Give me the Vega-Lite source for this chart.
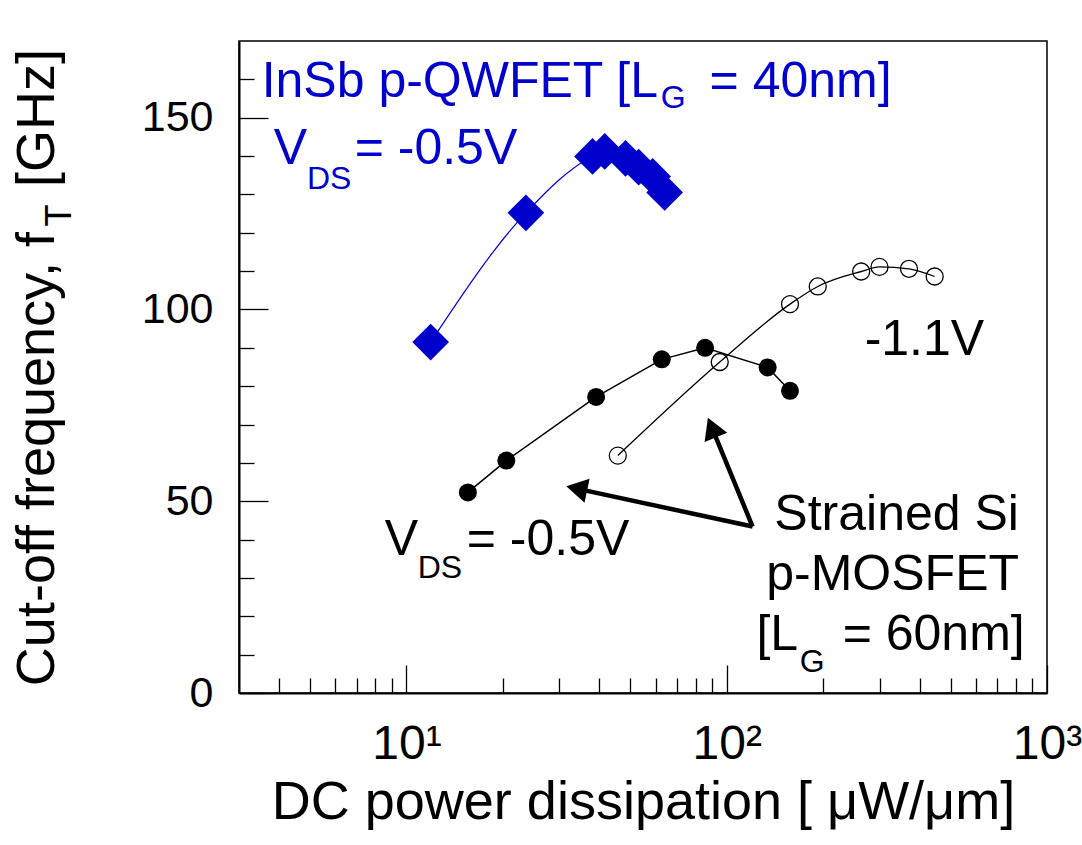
{
  "$schema": "https://vega.github.io/schema/vega-lite/v6.json",
  "width": 808,
  "height": 652,
  "autosize": {"type": "none"},
  "padding": {"left": 239, "top": 41, "right": 35, "bottom": 152},
  "background": "white",
  "config": {
    "font": "Liberation Sans",
    "view": {"stroke": "black", "strokeWidth": 1.5},
    "axis": {"grid": false, "domainColor": "black", "domainWidth": 2, "tickColor": "black", "tickWidth": 1.3, "labelColor": "black", "titleColor": "black", "labelFont": "Liberation Sans", "titleFont": "Liberation Sans", "titleFontWeight": "normal", "labelOverlap": false, "labelFlush": false}
  },
  "datasets": {
    "insb": [
      {"power": 11.9, "ft": 91.5},
      {"power": 23.6, "ft": 125.2},
      {"power": 38.1, "ft": 139.9},
      {"power": 41.6, "ft": 141.2},
      {"power": 48.3, "ft": 139.4},
      {"power": 53.1, "ft": 137.1},
      {"power": 58.7, "ft": 134.7},
      {"power": 64.0, "ft": 130.5}
    ],
    "si05": [
      {"power": 15.55, "ft": 52.3},
      {"power": 20.5, "ft": 60.6},
      {"power": 39.1, "ft": 77.2},
      {"power": 62.7, "ft": 87.0},
      {"power": 85.6, "ft": 90.0},
      {"power": 134.2, "ft": 84.9},
      {"power": 157.6, "ft": 78.8}
    ],
    "si11": [
      {"power": 45.7, "ft": 61.9},
      {"power": 95.1, "ft": 86.3},
      {"power": 157.6, "ft": 101.4},
      {"power": 192.4, "ft": 106.0},
      {"power": 262.9, "ft": 109.9},
      {"power": 299.9, "ft": 111.1},
      {"power": 370.7, "ft": 110.6},
      {"power": 445.9, "ft": 108.6}
    ],
    "shafts": [
      {"arrow": "a", "power": 120.4, "ft": 43.4, "power2": 34.0, "ft2": 53.3},
      {"arrow": "b", "power": 120.4, "ft": 43.4, "power2": 89.9, "ft2": 69.2}
    ],
    "heads": [
      {"arrow": "a", "power": 34.0, "ft": 53.3},
      {"arrow": "b", "power": 89.9, "ft": 69.2}
    ],
    "blueText": [
      {"power": 3.53, "ft": 155.5, "text": "InSb p-QWFET [L"},
      {"power": 88.4, "ft": 155.5, "text": " = 40nm]"},
      {"power": 3.85, "ft": 137.8, "text": "V"},
      {"power": 6.89, "ft": 137.8, "text": "= -0.5V"}
    ],
    "blueSub": [
      {"power": 62.2, "ft": 152.6, "text": "G"},
      {"power": 4.89, "ft": 131.3, "text": "DS"}
    ],
    "blackText": [
      {"power": 269.5, "ft": 88.2, "text": "-1.1V"},
      {"power": 8.55, "ft": 36.1, "text": "V"},
      {"power": 15.42, "ft": 36.1, "text": "= -0.5V"},
      {"power": 123.8, "ft": 11.3, "text": "[L"},
      {"power": 230.1, "ft": 11.3, "text": " = 60nm]"}
    ],
    "blackSub": [
      {"power": 10.84, "ft": 30.1, "text": "DS"},
      {"power": 168.9, "ft": 5.55, "text": "G"}
    ],
    "blackCenter": [
      {"power": 339.2, "ft": 42.6, "text": "Strained Si"},
      {"power": 329.6, "ft": 26.9, "text": "p-MOSFET"}
    ],
    "titleSub": [
      {"power": 0.827, "ft": 124.5, "text": "T"}
    ]
  },
  "encoding": {
    "x": {
      "field": "power",
      "type": "quantitative",
      "scale": {"type": "log", "domain": [3, 1000], "nice": false},
      "axis": {
        "title": "DC power dissipation [ μW/μm]",
        "values": [4, 5, 6, 7, 8, 9, 10, 20, 30, 40, 50, 60, 70, 80, 90, 100, 200, 300, 400, 500, 600, 700, 800, 900, 1000],
        "labelExpr": "datum.value == 10 ? '10¹' : datum.value == 100 ? '10²' : datum.value == 1000 ? '10³' : ''",
        "tickSize": {"condition": {"test": "datum.value == 10 || datum.value == 100 || datum.value == 1000", "value": -28}, "value": -15},
        "labelFontSize": 48,
        "labelPadding": 55,
        "titleFontSize": 54,
        "titlePadding": -6
      }
    },
    "y": {
      "field": "ft",
      "type": "quantitative",
      "scale": {"domain": [0, 170], "nice": false},
      "axis": {
        "title": "Cut-off frequency, f\u00a0\u00a0\u00a0[GHz]",
        "values": [0, 10, 20, 30, 40, 50, 60, 70, 80, 90, 100, 110, 120, 130, 140, 150, 160],
        "labelExpr": "datum.value % 50 == 0 ? datum.label : ''",
        "tickSize": {"condition": {"test": "datum.value % 50 == 0", "value": -29}, "value": -15},
        "labelFontSize": 43,
        "labelPadding": 55,
        "titleFontSize": 54,
        "titlePadding": 77
      }
    }
  },
  "layer": [
    {"data": {"name": "insb"}, "mark": {"type": "line", "color": "#0000cc", "strokeWidth": 1.2, "interpolate": "monotone"}},
    {"data": {"name": "insb"}, "mark": {"type": "point", "shape": "diamond", "filled": true, "size": 1350, "color": "#0000cc", "opacity": 1}},
    {"data": {"name": "si05"}, "mark": {"type": "line", "color": "black", "strokeWidth": 1.5}},
    {"data": {"name": "si05"}, "mark": {"type": "point", "shape": "circle", "filled": true, "size": 324, "color": "black", "opacity": 1}},
    {"data": {"name": "si11"}, "mark": {"type": "line", "color": "black", "strokeWidth": 1.3, "interpolate": "monotone"}},
    {"data": {"name": "si11"}, "mark": {"type": "point", "shape": "circle", "filled": false, "size": 289, "color": "black", "strokeWidth": 1.3, "opacity": 1}},
    {"data": {"name": "shafts"}, "mark": {"type": "rule", "color": "black", "strokeWidth": 4.5}, "encoding": {"x2": {"field": "power2"}, "y2": {"field": "ft2"}}},
    {"data": {"name": "heads"}, "transform": [{"filter": "datum.arrow == 'a'"}], "mark": {"type": "point", "shape": "triangle-up", "filled": true, "size": 600, "angle": 282, "color": "black", "opacity": 1}},
    {"data": {"name": "heads"}, "transform": [{"filter": "datum.arrow == 'b'"}], "mark": {"type": "point", "shape": "triangle-up", "filled": true, "size": 600, "angle": 337.6, "color": "black", "opacity": 1}},
    {"data": {"name": "blueText"}, "mark": {"type": "text", "align": "left", "baseline": "alphabetic", "fontSize": 50, "color": "#0000cc"}, "encoding": {"text": {"field": "text"}}},
    {"data": {"name": "blueSub"}, "mark": {"type": "text", "align": "left", "baseline": "alphabetic", "fontSize": 32, "color": "#0000cc"}, "encoding": {"text": {"field": "text"}}},
    {"data": {"name": "blackText"}, "mark": {"type": "text", "align": "left", "baseline": "alphabetic", "fontSize": 50, "color": "black"}, "encoding": {"text": {"field": "text"}}},
    {"data": {"name": "blackSub"}, "mark": {"type": "text", "align": "left", "baseline": "alphabetic", "fontSize": 32, "color": "black"}, "encoding": {"text": {"field": "text"}}},
    {"data": {"name": "blackCenter"}, "mark": {"type": "text", "align": "center", "baseline": "alphabetic", "fontSize": 50, "color": "black"}, "encoding": {"text": {"field": "text"}}},
    {"data": {"name": "titleSub"}, "mark": {"type": "text", "align": "center", "baseline": "middle", "angle": 270, "fontSize": 36, "color": "black"}, "encoding": {"text": {"field": "text"}}}
  ]
}
